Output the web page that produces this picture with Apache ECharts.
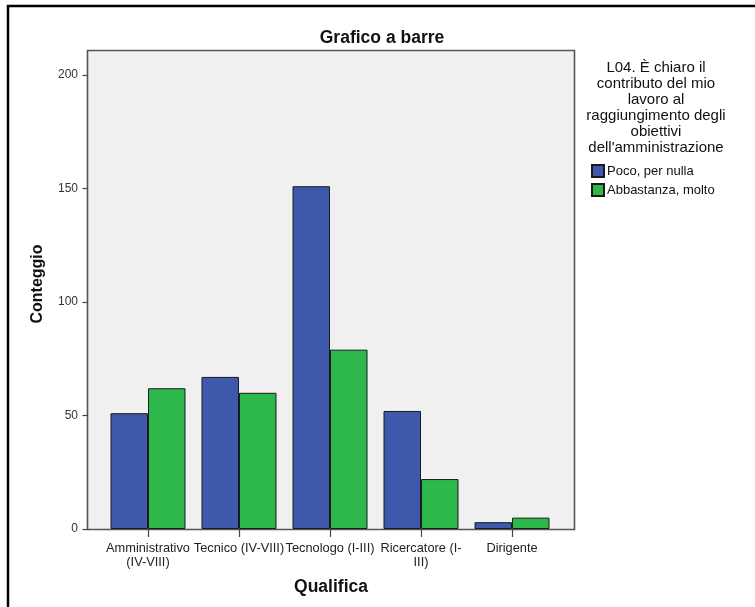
<!DOCTYPE html>
<html>
<head>
<meta charset="utf-8">
<script src="https://cdn.jsdelivr.net/npm/echarts@6/dist/echarts.min.js"></script>
<style>
html,body{margin:0;padding:0;background:#fff;}
#chart{width:755px;height:607px;}
</style>
</head>
<body>
<div id="chart"></div>
<script>
const categories = ['Amministrativo\n(IV-VIII)', 'Tecnico (IV-VIII)', 'Tecnologo (I-III)', 'Ricercatore (I-\nIII)', 'Dirigente'];
const seriesNames = ['Poco, per nulla', 'Abbastanza, molto'];
const pocoValues = [51, 67, 151, 52, 3];
const abbastanzaValues = [62, 60, 79, 22, 5];
const yTicks = [0, 50, 100, 150, 200];
const legendTitle = "L04. È chiaro il\ncontributo del mio\nlavoro al\nraggiungimento degli\nobiettivi\ndell'amministrazione";

const font = '"Liberation Sans", Arial, sans-serif';
const chart = echarts.init(document.getElementById('chart'));
chart.setOption({
  animation: false,
  backgroundColor: '#ffffff',
  textStyle: { fontFamily: font },
  title: [
    { text: 'Grafico a barre', left: 382, top: 29, textAlign: 'center', padding: 0,
      textStyle: { fontFamily: font, fontSize: 17.5, fontWeight: 'bold', color: '#111' } },
    { text: legendTitle, left: 656, top: 60, textAlign: 'center', padding: 0,
      textStyle: { fontFamily: font, fontSize: 15, fontWeight: 'normal', color: '#111', lineHeight: 16 } }
  ],
  legend: {
    orient: 'vertical', left: 591, top: 164, padding: 0,
    itemWidth: 12, itemHeight: 12, itemGap: 5,
    data: seriesNames,
    textStyle: { fontFamily: font, fontSize: 13, color: '#111', padding: [0, 0, 0, -2] },
    icon: 'rect'
  },
  graphic: [
    { type: 'rect', z: -10, silent: true, shape: { x: 8, y: 6, width: 800, height: 700 },
      style: { fill: '#fff', stroke: '#000', lineWidth: 2.5 } },
    { type: 'rect', z: -5, silent: true, shape: { x: 87.5, y: 50.5, width: 487, height: 479 },
      style: { fill: '#f0f0f0', stroke: '#555', lineWidth: 1.6 } },
    { type: 'text', silent: true, x: 331, y: 587,
      style: { text: 'Qualifica', fontFamily: font, fontSize: 17.5, fontWeight: 'bold', fill: '#111', align: 'center', verticalAlign: 'middle' } },
    { type: 'text', silent: true, x: 38, y: 284, rotation: Math.PI / 2,
      style: { text: 'Conteggio', fontFamily: font, fontSize: 16, fontWeight: 'bold', fill: '#111', align: 'center', verticalAlign: 'middle' } }
  ],
  grid: { left: 102.5, right: 197.5, top: 75, bottom: 78, containLabel: false },
  xAxis: {
    type: 'category',
    data: categories,
    axisLine: { show: false },
    axisTick: { show: true, alignWithLabel: true, length: 8, lineStyle: { color: '#444', width: 1.2 } },
    axisLabel: { margin: 12, fontSize: 12.8, color: '#222', lineHeight: 14.5, interval: 0, fontFamily: font }
  },
  yAxis: {
    type: 'value', min: 0, max: 200, interval: 50,
    offset: 15,
    axisLine: { show: false },
    axisTick: { show: true, length: 5, lineStyle: { color: '#444', width: 1.2 } },
    axisLabel: { margin: 9.5, fontSize: 12, color: '#333', fontFamily: font,
      formatter: v => (yTicks.indexOf(v) >= 0 ? String(v) : '') },
    splitLine: { show: false }
  },
  series: [
    { name: seriesNames[0], type: 'bar', data: pocoValues, barGap: '0%', barCategoryGap: '17.6%',
      itemStyle: { color: '#3e58ac', borderColor: '#1a1a1a', borderWidth: 1 } },
    { name: seriesNames[1], type: 'bar', data: abbastanzaValues, barGap: '0%', barCategoryGap: '17.6%',
      itemStyle: { color: '#2eb84c', borderColor: '#1a1a1a', borderWidth: 1 } }
  ]
});
</script>
</body>
</html>
